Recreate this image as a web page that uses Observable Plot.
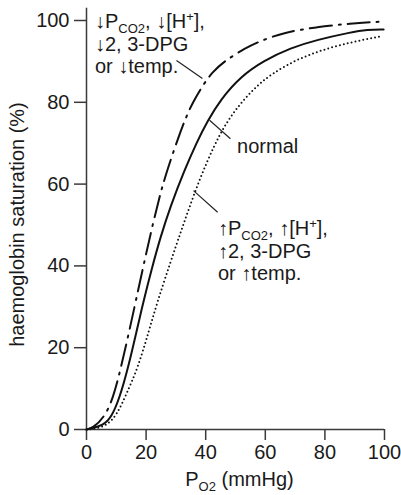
<!DOCTYPE html>
<html><head><meta charset="utf-8">
<script src="https://cdn.jsdelivr.net/npm/d3@7"></script>
<script src="https://cdn.jsdelivr.net/npm/@observablehq/plot@0.6"></script>
<style>
body{margin:0;background:#fff}
#chart{width:401px;height:495px}
</style>
</head><body><div id="chart"></div>
<script>
// ---- data (PO2 in mmHg, haemoglobin saturation in %) ----
const po2Normal = [0, 1.1, 5.6, 8.4, 11.2, 14.0, 16.8, 19.2, 22.0, 24.8, 28.2, 32.8, 37.1, 40.5, 45.0, 51.7, 59.5, 68.5, 77.4, 88.6, 94.2, 99.7];
const satNormal = [0, 0.2, 1.0, 3.0, 7.9, 15.2, 24.0, 31.6, 39.6, 47.0, 54.6, 63.3, 70.4, 75.3, 80.7, 86.3, 90.2, 93.3, 95.3, 97.1, 97.8, 97.8];

const po2Left = [0, 2.0, 6.1, 9.0, 11.2, 14.5, 17.6, 19.8, 22.0, 24.3, 26.5, 30.9, 33.2, 35.5, 39.4, 42.2, 46.1, 53.4, 58.4, 66.2, 77.4, 88.6, 98.7];
const satLeft = [0, 0.3, 3.0, 7.9, 14.0, 24.5, 35.0, 42.3, 49.4, 56.3, 62.2, 71.6, 76.0, 79.8, 84.6, 87.3, 90.0, 93.3, 95.0, 97.1, 98.4, 99.3, 99.7];

const po2Right = [0, 3.0, 6.7, 10.1, 13.4, 17.3, 20.7, 23.7, 28.2, 31.5, 34.3, 38.3, 42.7, 46.1, 50.6, 56.1, 61.7, 71.8, 83.0, 94.2, 99.2];
const satRight = [0, 0.2, 1.0, 3.4, 8.7, 15.2, 23.5, 31.0, 41.0, 48.0, 53.9, 61.8, 69.2, 74.0, 78.8, 83.3, 86.8, 91.0, 93.7, 95.5, 96.2];

const xTicks = [0, 20, 40, 60, 80, 100];
const yTicks = [0, 20, 40, 60, 80, 100];

// rich-text labels: [text, kind]
const labelLeftCurve = [
  [["↓P", ""], ["CO2", "sub"], [", ↓[H", ""], ["+", "sup"], ["],", ""]],
  [["↓2, 3-DPG", ""]],
  [["or ↓temp.", ""]]
];
const labelNormal = [[["normal", ""]]];
const labelRightCurve = [
  [["↑P", ""], ["CO2", "sub"], [", ↑[H", ""], ["+", "sup"], ["],", ""]],
  [["↑2, 3-DPG", ""]],
  [["or ↑temp.", ""]]
];
const xTitle = [[["P", ""], ["O2", "sub"], [" (mmHg)", ""]]];
const yTitle = "haemoglobin saturation (%)";

// leader lines in data units
const leaders = [
  {x1: 30.2, y1: 90.2, x2: 38.9, y2: 85.8},
  {x1: 41.3, y1: 75.6, x2: 48.3, y2: 71.1},
  {x1: 35.9, y1: 58.4, x2: 44.0, y2: 53.1}
];

const toRows = (xs, ys) => xs.map((x, i) => ({x, y: ys[i]}));
const normal = toRows(po2Normal, satNormal);
const left = toRows(po2Left, satLeft);
const right = toRows(po2Right, satRight);

const axisColor = "#3a3a3a";
const font = "'Liberation Sans', Arial, Helvetica, sans-serif";

const plot = Plot.plot({
  width: 401,
  height: 495,
  marginLeft: 86,
  marginRight: 17,
  marginTop: 20,
  marginBottom: 66,
  style: {fontFamily: font, fontSize: "20px", color: "#1a1a1a", background: "#fff", overflow: "visible"},
  x: {domain: [0, 100]},
  y: {domain: [0, 100]},
  marks: [
    Plot.axisX({ticks: xTicks, tickSize: 11, tickPadding: 4, stroke: axisColor, strokeWidth: 1.5, label: null, fontSize: 20}),
    Plot.axisY({ticks: yTicks, tickSize: 12, tickPadding: 5, stroke: axisColor, strokeWidth: 1.5, label: null, fontSize: 20}),
    Plot.ruleX([0], {y1: 0, y2: 103, stroke: axisColor, strokeWidth: 1.5}),
    Plot.ruleY([0], {x1: 0, x2: 100, stroke: axisColor, strokeWidth: 1.5}),
    Plot.line(normal, {x: "x", y: "y", curve: "basis", stroke: "#111", strokeWidth: 2}),
    Plot.line(left, {x: "x", y: "y", curve: "basis", stroke: "#111", strokeWidth: 2, strokeDasharray: "22,7,2,7"}),
    Plot.line(right, {x: "x", y: "y", curve: "basis", stroke: "#111", strokeWidth: 2, strokeDasharray: "0,4", strokeLinecap: "round"}),
    Plot.link(leaders, {x1: "x1", y1: "y1", x2: "x2", y2: "y2", stroke: "#222", strokeWidth: 1.2})
  ]
});
document.getElementById("chart").append(plot);

// rich text annotations, positioned through the plot's scales
const sx = plot.scale("x"), sy = plot.scale("y");
const svg = d3.select(plot);
function rich(lines, px, py, gap, anchor = "start") {
  const g = svg.append("g").attr("font-family", font).attr("font-size", 20).attr("fill", "#1a1a1a");
  lines.forEach((segs, i) => {
    const t = g.append("text").attr("x", px).attr("y", py + i * gap).attr("text-anchor", anchor);
    let off = 0;
    segs.forEach(([s, k]) => {
      const target = k === "sub" ? 5 : k === "sup" ? -7 : 0;
      const ts = t.append("tspan").text(s).attr("dy", target - off);
      if (k) ts.attr("font-size", 13);
      off = target;
    });
  });
  return g;
}
rich(labelLeftCurve, sx.apply(3.0), sy.apply(98), 22.5);
rich(labelNormal, sx.apply(50.7), sy.apply(67.5), 22.5);
rich(labelRightCurve, sx.apply(44.3), sy.apply(47.4), 22.5);
rich(xTitle, sx.apply(51.5), 486, 0, "middle");
svg.append("text")
  .attr("transform", `translate(24,${sy.apply(50)}) rotate(-90)`)
  .attr("text-anchor", "middle")
  .attr("font-family", font).attr("font-size", 20).attr("fill", "#1a1a1a")
  .text(yTitle);
</script>
</body></html>
